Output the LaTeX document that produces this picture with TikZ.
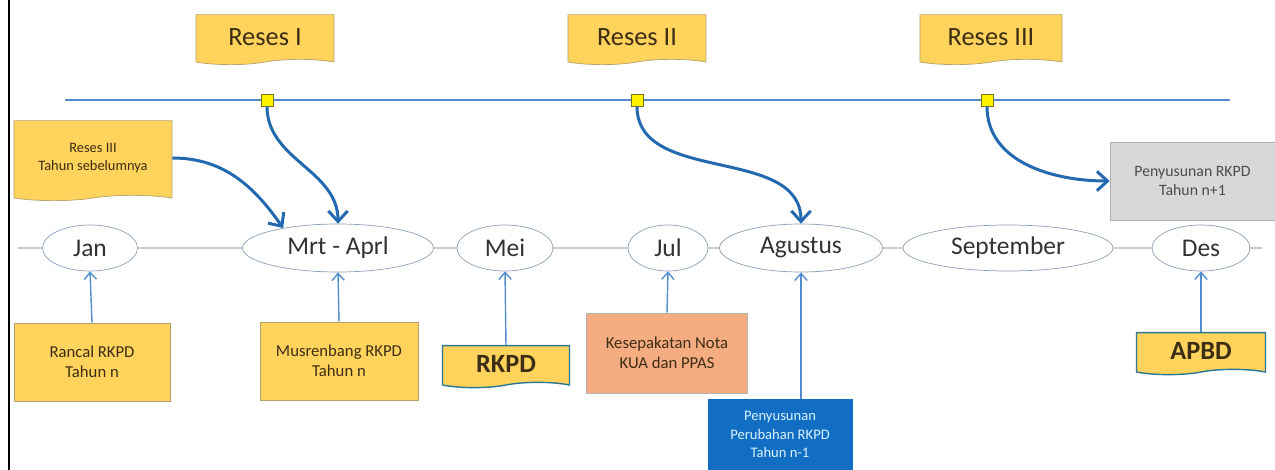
\documentclass[tikz,border=0pt]{standalone}
\usepackage{fontspec}
\setmainfont{Carlito}
\usetikzlibrary{shapes.geometric,shapes.symbols,arrows.meta}
\definecolor{noteyellow}{RGB}{255,211,92}
\definecolor{noteedge}{RGB}{180,160,110}
\definecolor{docedge}{RGB}{40,120,150}
\definecolor{lineblue}{RGB}{84,141,204}
\definecolor{arrowblue}{RGB}{35,105,175}
\definecolor{ellipseedge}{RGB}{140,160,185}
\definecolor{salmon}{RGB}{244,172,128}
\definecolor{boxblue}{RGB}{18,110,195}
\definecolor{boxgrey}{RGB}{216,216,216}
\definecolor{inkbrown}{RGB}{60,45,20}
\tikzset{
  month/.style={ellipse, draw=ellipseedge, fill=white, inner sep=0pt,
    font=\fontsize{14.5}{16}\selectfont, text=black!80},
  note/.style={tape, tape bend top=none, tape bend height=3pt, draw=noteedge,
    fill=noteyellow, align=center, inner sep=0pt, text=inkbrown},
  notebox/.style={rectangle, draw=noteedge, fill=noteyellow, align=center,
    inner sep=0pt, text=inkbrown, font=\fontsize{9.5}{11.4}\selectfont},
  marker/.style={rectangle, draw=olive!80!black, fill=yellow, minimum size=0.24cm, inner sep=0pt},
  uparrow/.style={draw=lineblue, line width=0.8pt, -{Straight Barb[length=4pt,width=7pt]}},
  bendarrow/.style={draw=arrowblue, line width=1.7pt, -{Straight Barb[length=6pt,width=11pt]}}
}
\begin{document}
\begin{tikzpicture}[x=0.02cm, y=-0.02cm]
\useasboundingbox (0,0) rectangle (1275,470);
% frame on the left
\draw[black, line width=1.2pt] (9,0) -- (9,470);

%--- TOP LINE ---
\coordinate (topL) at (65,100);
\coordinate (topR) at (1230,100);
\draw[lineblue, line width=1.5pt] (topL) -- (topR);
\node[marker] (sqA) at (267,100) {};
\node[marker] (sqB) at (637,100) {};
\node[marker] (sqC) at (987,100) {};

% reses labels
\node[note, minimum width=2.76cm, minimum height=1cm, font=\fontsize{15}{17}\selectfont] (resesA) at (265,37) {Reses I};
\node[note, minimum width=2.76cm, minimum height=1cm, font=\fontsize{15}{17}\selectfont] (resesB) at (637,37) {Reses II};
\node[note, minimum width=2.84cm, minimum height=1cm, font=\fontsize{15}{17}\selectfont] (resesC) at (991,37) {Reses III};
\node[note, minimum width=3.16cm, minimum height=1.6cm, font=\fontsize{8.2}{10}\selectfont] (resesPrev) at (93,158) {Reses III\\Tahun sebelumnya};

%--- MONTHS ---
\coordinate (baseL) at (18,248);
\coordinate (baseR) at (1262,248);
\draw[black!20, line width=0.6pt] (baseL) -- (baseR);
\node[month, minimum width=1.9cm, minimum height=0.92cm] (jan) at (90,248) {Jan};
\node[month, minimum width=3.82cm, minimum height=0.96cm] (mrt) at (338,248) {Mrt - Aprl};
\node[month, minimum width=1.92cm, minimum height=0.92cm] (mei) at (505,248) {Mei};
\node[month, minimum width=1.6cm, minimum height=0.92cm] (jul) at (668,248) {Jul};
\node[month, minimum width=3.26cm, minimum height=0.96cm] (agus) at (801,248) {Agustus};
\node[month, minimum width=4.2cm, minimum height=0.92cm] (sept) at (1008,248) {September};
\node[month, minimum width=1.96cm, minimum height=0.92cm] (des) at (1201,248) {Des};

%--- BOXES BELOW ---
\node[notebox, minimum width=3.12cm, minimum height=1.56cm] (rancal) at (92,362) {Rancal RKPD\\Tahun n};
\node[notebox, minimum width=3.16cm, minimum height=1.56cm] (musren) at (339,361) {Musrenbang RKPD\\Tahun n};
\node[note, draw=docedge, line width=0.8pt, minimum width=2.54cm, minimum height=0.84cm, font=\fontsize{15}{17}\selectfont\bfseries] (rkpd) at (506,364) {RKPD};
\node[notebox, fill=salmon, draw=black!30, minimum width=3.22cm, minimum height=1.6cm] (kesep) at (667,353) {Kesepakatan Nota\\KUA dan PPAS};
\node[notebox, fill=boxblue, draw=boxblue, text=white!85!cyan, font=\fontsize{8.3}{10.5}\selectfont, minimum width=2.88cm, minimum height=1.42cm] (ubah) at (780,434.5) {Penyusunan\\Perubahan RKPD\\Tahun n-1};
\node[note, draw=docedge, line width=0.8pt, minimum width=2.58cm, minimum height=0.84cm, font=\fontsize{15}{17}\selectfont\bfseries] (apbd) at (1201,351) {APBD};

% grey box on the right
\node[notebox, fill=boxgrey, draw=black!30, text=black!70, font=\fontsize{9}{11}\selectfont, minimum width=3.3cm, minimum height=1.56cm] (rkpdNext) at (1192.5,181) {Penyusunan RKPD\\Tahun n+1};

%--- ARROWS UP ---
\draw[uparrow] (rancal.north) -- (jan.south);
\draw[uparrow] (musren.north) -- (mrt.south);
\draw[uparrow] (rkpd.north) -- (mei.south);
\draw[uparrow] (kesep.north) -- (jul.south);
\draw[uparrow] (ubah.north -| agus.south) -- (agus.south);
\draw[uparrow] (apbd.north) -- (des.south);

%--- CURVED ARROWS ---
\draw[bendarrow] (resesPrev.east) to[out=0, in=125] (mrt.160);
\draw[bendarrow] (sqA.south) to[out=-90, in=90] (mrt.north);
\draw[bendarrow] (sqB.south) to[out=-90, in=90] (agus.north);
\draw[bendarrow] (sqC.south) to[out=-90, in=180] (rkpdNext.west);
\end{tikzpicture}
\end{document}
